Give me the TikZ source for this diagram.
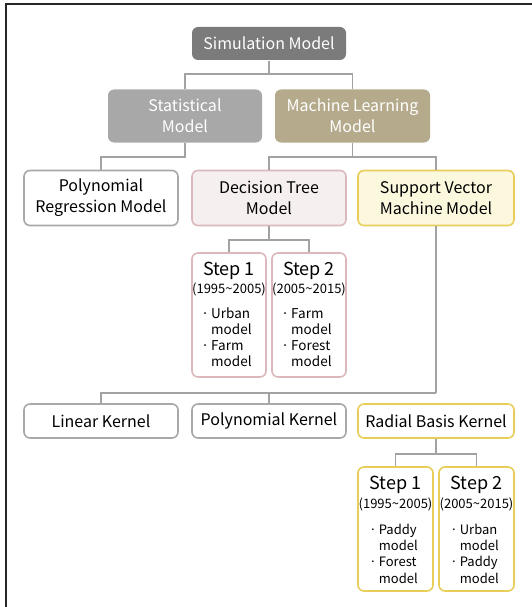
\documentclass[tikz,border=0pt]{standalone}
\usepackage{fontspec}
\setmainfont{Noto Sans CJK KR}
\definecolor{simfill}{HTML}{7B7B7B}
\definecolor{statfill}{HTML}{A8A8A8}
\definecolor{mlfill}{HTML}{B5AB8C}
\definecolor{lineg}{HTML}{A2A2A2}
\definecolor{grayb}{HTML}{A8A8A8}
\definecolor{pinkb}{HTML}{DBB8BC}
\definecolor{pinkf}{HTML}{F6EFF0}
\definecolor{yelb}{HTML}{E8CD58}
\definecolor{yelf}{HTML}{FCF8DE}
\begin{document}
\begin{tikzpicture}[x=1pt,y=-1pt,
  box/.style={rounded corners=6pt, inner sep=0pt, align=center, line width=1.6pt,
    font=\fontsize{16}{21}\selectfont, minimum width=154pt},
  topbox/.style={box, minimum height=53pt, text=white},
  lvbox/.style={box, minimum height=55pt},
  kbox/.style={box, minimum height=34pt},
  sbox/.style={rounded corners=6pt, inner sep=0pt, line width=1.6pt, minimum width=74pt, minimum height=124pt},
  greyed/.style={draw=grayb, fill=white},
  pinked/.style={draw=pinkb, fill=pinkf},
  yelled/.style={draw=yelb, fill=yelf},
  stitle/.style={anchor=base, inner sep=0pt, font=\fontsize{18}{20}\selectfont},
  syears/.style={anchor=base, inner sep=0pt, font=\fontsize{13}{14}\selectfont},
  slist/.style={anchor=base west, inner sep=0pt, align=left, font=\fontsize{13.5}{16}\selectfont},
  conn/.style={draw=lineg, line width=1.8pt}]
\useasboundingbox (0,0) rectangle (532,607);
\draw[line width=1.5pt, black!85] (6,607) -- (6,4) -- (532,4);

% level 1 and 2
\node[box, minimum height=33pt, fill=simfill, text=white] (sim) at (269,43.5) {Simulation Model};
\node[topbox, fill=statfill] (stat) at (185,116) {Statistical\\Model};
\node[topbox, fill=mlfill, minimum width=155pt] (ml) at (352.5,116) {Machine Learning\\Model};

% level 3
\node[lvbox, greyed] (poly) at (101,198) {Polynomial\\Regression Model};
\node[lvbox, pinked] (dt) at (269,198) {Decision Tree\\Model};
\node[lvbox, yelled, minimum width=156pt] (svm) at (436,198) {Support Vector\\Machine Model};

% decision tree steps
\node[sbox, draw=pinkb, fill=white] (ds1) at (229,315) {};
\node[sbox, draw=pinkb, fill=white] (ds2) at (309,315) {};
\node[stitle] (ds1t) at ([yshift=-23pt]ds1.north) {Step 1};
\node[syears] (ds1y) at ([yshift=-41pt]ds1.north) {(1995\char`~2005)};
\node[slist] (ds1l) at ([xshift=10pt,yshift=-114pt]ds1.north west) {·\,Urban\\\phantom{·\,}model\\·\,Farm\\\phantom{·\,}model};
\node[stitle] (ds2t) at ([yshift=-23pt]ds2.north) {Step 2};
\node[syears] (ds2y) at ([yshift=-41pt]ds2.north) {(2005\char`~2015)};
\node[slist] (ds2l) at ([xshift=10pt,yshift=-114pt]ds2.north west) {·\,Farm\\\phantom{·\,}model\\·\,Forest\\\phantom{·\,}model};

% kernels
\node[kbox, greyed] (lk) at (101,421) {Linear Kernel};
\node[kbox, greyed] (pk) at (269,421) {Polynomial Kernel};
\node[kbox, draw=yelb, fill=white, minimum width=156pt] (rk) at (436,421) {Radial Basis Kernel};

% radial steps
\node[sbox, draw=yelb, fill=white, minimum width=75pt] (rs1) at (395.5,529) {};
\node[sbox, draw=yelb, fill=white, minimum width=75pt] (rs2) at (476.5,529) {};
\node[stitle] (rs1t) at ([yshift=-23pt]rs1.north) {Step 1};
\node[syears] (rs1y) at ([yshift=-42pt]rs1.north) {(1995\char`~2005)};
\node[slist, font=\fontsize{13}{16.3}\selectfont] (rs1l) at ([xshift=12pt,yshift=-117pt]rs1.north west) {·\,Paddy\\\phantom{·\,}model\\·\,Forest\\\phantom{·\,}model};
\node[stitle] (rs2t) at ([yshift=-23pt]rs2.north) {Step 2};
\node[syears] (rs2y) at ([yshift=-42pt]rs2.north) {(2005\char`~2015)};
\node[slist, font=\fontsize{13}{16.3}\selectfont] (rs2l) at ([xshift=12pt,yshift=-117pt]rs2.north west) {·\,Urban\\\phantom{·\,}model\\·\,Paddy\\\phantom{·\,}model};

% connectors
\coordinate (j1) at (269,74);
\draw[conn] (sim.south) -- (j1);
\draw[conn] (stat.north) |- (j1) -| (ml.north);
\draw[conn] (stat.south) -- ++(0,14) -| (poly.north);
\draw[conn] (ml.south) -- ++(0,14) coordinate (j3);
\draw[conn] (dt.north) |- (j3) -| (svm.north);
\draw[conn] (dt.south) -- ++(0,14) coordinate (j4);
\draw[conn] (ds1.north) |- (j4) -| (ds2.north);
\coordinate (j5) at (436,393);
\draw[conn] (svm.south) -- (j5);
\draw[conn] (lk.north) |- (j5);
\draw[conn] (pk.north) -- (pk.north |- j5);
\draw[conn] (rk.south) -- ++(0,15) coordinate (j6);
\draw[conn] (rs1.north) |- (j6) -| (rs2.north);
\end{tikzpicture}
\end{document}
